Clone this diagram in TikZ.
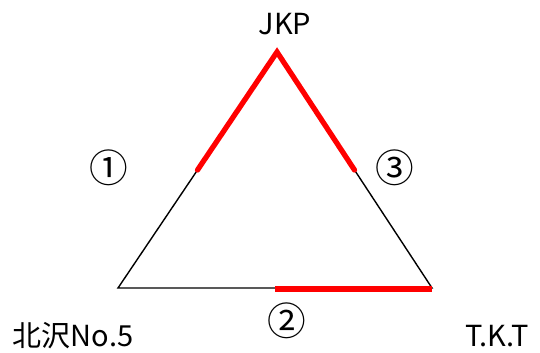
\documentclass[tikz,border=0pt]{standalone}
\usepackage{fontspec}
\setmainfont{Noto Sans CJK JP}
\usetikzlibrary{calc}
\definecolor{EdgeRed}{HTML}{FF0000}

\begin{document}
\begin{tikzpicture}[
      side/.style={draw=black,line width=0.8pt},
      hot/.style={draw=EdgeRed,line width=3pt},
      lbl/.style={font=\fontsize{16.5}{19}\selectfont,inner sep=0pt},
      num/.style={font=\fontsize{22}{24}\selectfont,inner sep=0pt}]
      \useasboundingbox (0,0) rectangle (10.8,7.04);
      \coordinate (jkp) at (5.54,6.00);
      \coordinate (kita) at (2.36,1.28);
      \coordinate (tkt) at (8.64,1.28);
      \draw[side] (jkp) -- (kita) -- (tkt) -- cycle;
      \draw[hot,line cap=round] ($(kita)!0.5!(jkp)$) -- (jkp) -- ($(tkt)!0.5!(jkp)$);
      \draw[hot] ($(kita)!0.5!(tkt)+(0,-0.02)$) -- ($(tkt)+(0,-0.02)$);
      \node[lbl] (nJ) at (5.70,6.56) {JKP};
      \node[lbl] (nK) at (1.46,0.32) {北沢No.5};
      \node[lbl] (nT) at (9.94,0.32) {T.K.T};
      \node[num] (one) at (2.18,3.69) {①};
      \node[num] (two) at (5.74,0.62) {②};
      \node[num] (three) at (7.90,3.68) {③};
    \end{tikzpicture}
\end{document}
